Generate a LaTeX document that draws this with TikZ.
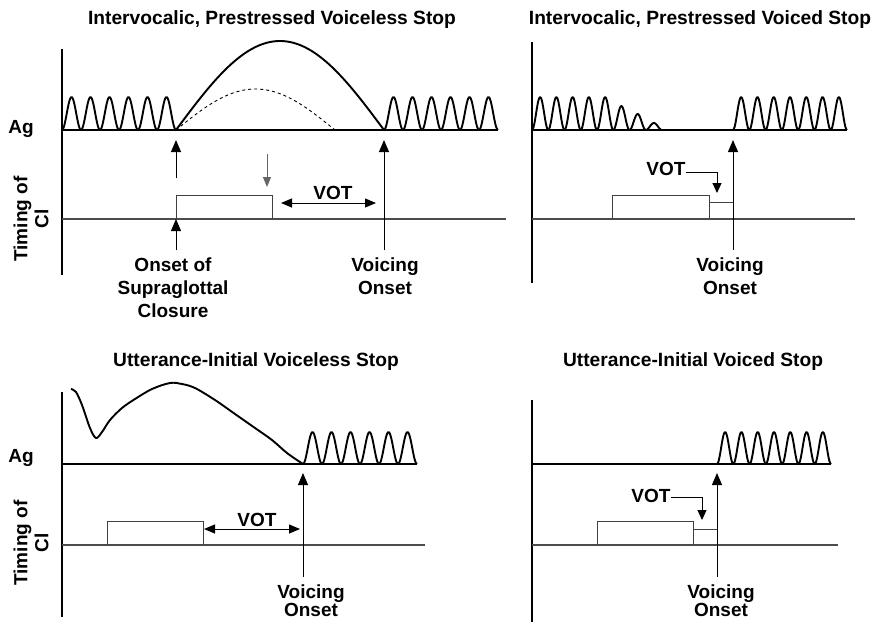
\documentclass[tikz,border=0pt]{standalone}
\usepackage{fontspec}
\setmainfont{Liberation Sans}
\usetikzlibrary{arrows.meta}
\begin{document}
\begin{tikzpicture}[x=1pt,y=-1pt,
  lbl/.style={font=\fontsize{19}{23}\selectfont\bfseries, inner sep=0pt, align=center, anchor=north},
  lblb/.style={font=\fontsize{19}{18}\selectfont\bfseries, inner sep=0pt, align=center, anchor=north},
  ttl/.style={font=\fontsize{19.2}{22}\selectfont\bfseries, inner sep=0pt, anchor=base},
  vot/.style={font=\fontsize{19}{22}\selectfont\bfseries, inner sep=0pt, anchor=base},
  side/.style={font=\fontsize{19}{21}\selectfont\bfseries, inner sep=0pt, align=center, rotate=90},
  wave/.style={line width=1.9pt, line join=round},
  axis/.style={line width=1.1pt},
  agbase/.style={line width=1.3pt},
  tbase/.style={line width=1.1pt, draw=black!70},
  boxl/.style={line width=1pt, draw=black!75},
  arr/.style={line width=1pt, -{Triangle[width=10pt,length=12pt]}},
  sarr/.style={line width=1pt, -{Triangle[width=9pt,length=10pt]}},
  garr/.style={line width=1pt, draw=black!60, -{Triangle[width=8pt,length=10pt]}},
  darr/.style={line width=1pt, {Triangle[width=9pt,length=11pt]}-{Triangle[width=9pt,length=11pt]}}
]
\useasboundingbox (0,0) rectangle (874,622);

%% ---------- Panel 1: Intervocalic, Prestressed Voiceless Stop
\node[ttl] (ttlA) at (272,24) {Intervocalic, Prestressed Voiceless Stop};
\node[side] (tcA) at (31,219) {Timing of\\Cl};
\node[font=\fontsize{19}{22}\selectfont\bfseries, inner sep=0pt, anchor=base] (agA) at (21,133) {Ag};
\draw[axis] (62,49) -- (62,275);
\draw[agbase] (62,130) -- (498,130);
\draw[wave] plot[domain=62:176, samples=115] ({\x},{130-16.5*(1-cos((\x-62)*18.94737))});
\draw[wave] plot[domain=176:384, samples=105] ({\x},{130-89*sin((\x-176)*0.865385)});
\draw[line width=0.9pt, dash pattern=on 3pt off 3pt] plot[domain=176:335, samples=80] ({\x},{130-41*sin((\x-176)*1.132075)});
\draw[wave] plot[domain=384:498, samples=115] ({\x},{130-16.5*(1-cos((\x-384)*18.94737))});
\draw[tbase] (62,219) -- (506,219);
\draw[boxl] (176,219) -- (176,195) -- (272,195) -- (272,219);
\coordinate (a1s) at (176,178); \coordinate (a1e) at (176,140);
\draw[arr] (a1s) -- (a1e);
\coordinate (g1s) at (267,154); \coordinate (g1e) at (267,187);
\draw[garr] (g1s) -- (g1e);
\coordinate (b1s) at (176,250); \coordinate (b1e) at (176,219);
\draw[arr] (b1s) -- (b1e);
\coordinate (v1s) at (384,250); \coordinate (v1e) at (384,140);
\draw[arr] (v1s) -- (v1e);
\coordinate (d1s) at (281,203); \coordinate (d1e) at (376,203);
\draw[darr] (d1s) -- (d1e);
\node[vot] (votA) at (333,199) {VOT};
\node[lbl] (onsA) at (173,257.5) {Onset of\\Supraglottal\\Closure};
\node[lbl] (voiA) at (385,257.5) {Voicing\\Onset};

%% ---------- Panel 2: Intervocalic, Prestressed Voiced Stop
\node[ttl] (ttlB) at (700,24) {Intervocalic, Prestressed Voiced Stop};
\draw[axis] (532,42) -- (532,283);
\draw[agbase] (532,130) -- (847,130);
\foreach \amp [count=\i from 0] in {33,33,33,33,33,24,16,7}
  \draw[wave] plot[domain=0:16.25, samples=21] ({532+\i*16.25+\x},{130-0.5*\amp*(1-cos(\x*22.1538))});
\draw[wave] (662,130) -- (733,130);
\draw[wave] plot[domain=733:847, samples=141] ({\x},{130-16.5*(1-cos((\x-733)*22.10526))});
\draw[tbase] (532,219) -- (855,219);
\draw[boxl] (612,219) -- (612,195) -- (709,195) -- (709,219);
\draw[boxl] (709,202) -- (733,202);
\coordinate (v2s) at (733,250); \coordinate (v2e) at (733,140);
\draw[arr] (v2s) -- (v2e);
\node[vot] (votB) at (666,175) {VOT};
\coordinate (e2a) at (717,172); \coordinate (e2b) at (717,193);
\draw[sarr] (votB.east |- e2a) -- (e2a) -- (e2b);
\node[lbl] (voiB) at (730,257.5) {Voicing\\Onset};

%% ---------- Panel 3: Utterance-Initial Voiceless Stop
\node[ttl] (ttlC) at (256,366) {Utterance-Initial Voiceless Stop};
\node[side] (tcC) at (31,543) {Timing of\\Cl};
\node[font=\fontsize{19}{22}\selectfont\bfseries, inner sep=0pt, anchor=base] (agC) at (21,462) {Ag};
\draw[axis] (62,392) -- (62,617);
\draw[agbase] (62,464) -- (417,464);
\draw[wave] plot[smooth, tension=0.55] coordinates {(71,389) (76,392) (82,405) (90,428) (96,438) (102,432) (110,420) (122,408) (135,399) (152,389) (170,383) (182,384) (195,388) (215,400) (235,414) (255,428) (272,440) (287,453) (303,464)};
\draw[wave] plot[domain=303:417, samples=115] ({\x},{464-16*(1-cos((\x-303)*18.94737))});
\draw[tbase] (62,545) -- (425,545);
\draw[boxl] (107,545) -- (107,521) -- (203,521) -- (203,545);
\coordinate (d3s) at (204,529); \coordinate (d3e) at (300,529);
\draw[darr] (d3s) -- (d3e);
\node[vot] (votC) at (257,526) {VOT};
\coordinate (v3s) at (303,577); \coordinate (v3e) at (303,473);
\draw[arr] (v3s) -- (v3e);
\node[lblb] (voiC) at (311,584.5) {Voicing\\Onset};

%% ---------- Panel 4: Utterance-Initial Voiced Stop
\node[ttl] (ttlD) at (693,366) {Utterance-Initial Voiced Stop};
\draw[axis] (532,400) -- (532,622);
\draw[agbase] (532,464) -- (831,464);
\draw[wave] (597,464) -- (717,464);
\draw[wave] plot[domain=717:831, samples=141] ({\x},{464-16*(1-cos((\x-717)*22.10526))});
\draw[tbase] (532,545) -- (838,545);
\draw[boxl] (597,545) -- (597,521) -- (693,521) -- (693,545);
\draw[boxl] (693,529) -- (717,529);
\coordinate (v4s) at (717,577); \coordinate (v4e) at (717,473);
\draw[arr] (v4s) -- (v4e);
\node[vot] (votD) at (651,502) {VOT};
\coordinate (e4a) at (702,497); \coordinate (e4b) at (702,520);
\draw[sarr] (votD.east |- e4a) -- (e4a) -- (e4b);
\node[lblb] (voiD) at (721,584.5) {Voicing\\Onset};
\end{tikzpicture}
\end{document}
